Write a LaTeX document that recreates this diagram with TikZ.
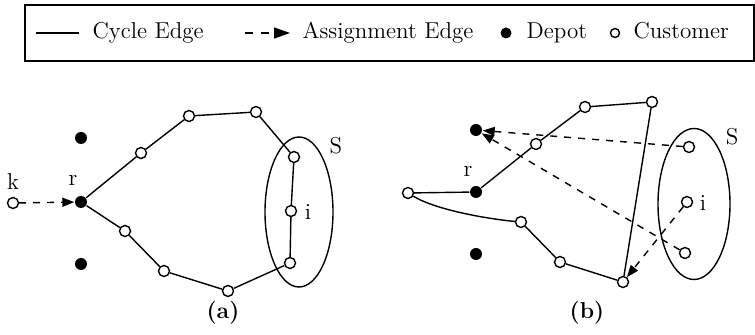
\documentclass[tikz,border=0pt]{standalone}
\usepackage{tikz}
\usetikzlibrary{arrows.meta,shapes.geometric}

\begin{document}
\begin{tikzpicture}[
  x=0.5pt, y=-0.5pt,
  font=\fontsize{11.5}{14}\selectfont,
  line width=0.7pt,
  cust/.style={circle, draw, fill=white, inner sep=0pt, minimum size=5.5pt},
  depot/.style={circle, fill=black, inner sep=0pt, minimum size=6pt},
  asgedge/.style={dash pattern=on 3.5pt off 3.5pt, -{Triangle[length=6pt, width=4.5pt]}},
  subset/.style={draw, ellipse, inner sep=0pt},
  lbl/.style={inner sep=0pt},
  txt/.style={anchor=base west, inner sep=0pt}
]
  \useasboundingbox (0,0) rectangle (755,335);

  % legend
  \draw (25,5) rectangle (754,61);
  \coordinate (lc1) at (36,33);
  \coordinate (lc2) at (79,33);
  \draw (lc1) -- (lc2);
  \node[txt] (lcyc) at (92,39) {Cycle Edge};
  \coordinate (la1) at (245,33);
  \coordinate (la2) at (290,33);
  \draw[asgedge, dash pattern=on 4pt off 4pt, -{Triangle[length=8pt, width=5.5pt]}] (la1) -- (la2);
  \node[txt] (lasg) at (302,39) {Assignment Edge};
  \node[depot, minimum size=5.5pt] (ldep) at (506,33) {};
  \node[txt] (ldeptxt) at (526,39) {Depot};
  \node[cust, minimum size=4.5pt] (lcus) at (615,33) {};
  \node[txt] (lcustxt) at (633,39) {Customer};

  % panel (a)
  \node[subset, minimum width=34pt, minimum height=75pt] (sa) at (299,212) {};
  \node[depot] (ra) at (81,202) {};
  \node[depot] (da1) at (81,138) {};
  \node[depot] (da2) at (81,264) {};
  \node[cust] (ka) at (13,203) {};
  \node[cust] (a1) at (141,153) {};
  \node[cust] (a2) at (189,116) {};
  \node[cust] (a3) at (256,112) {};
  \node[cust] (a4) at (294,157) {};
  \node[cust] (ia) at (291,211) {};
  \node[cust] (a6) at (290,263) {};
  \node[cust] (a7) at (228,291) {};
  \node[cust] (a8) at (164,271) {};
  \node[cust] (a9) at (125,231) {};
  \draw (ra) -- (a1) -- (a2) -- (a3) -- (a4) -- (ia) -- (a6) -- (a7) -- (a8) -- (a9) -- (ra);
  \draw[asgedge] (ka) -- (ra);
  \node[lbl] (klab) at (13,182) {k};
  \node[lbl] (rlaba) at (73,180) {r};
  \node[lbl] (slaba) at (336,146) {S};
  \node[lbl] (ilaba) at (308,212) {i};
  \node[lbl] (capa) at (223,313) {\bfseries (a)};

  % panel (b)
  \node[subset, minimum width=36pt, minimum height=75.5pt] (sb) at (694,204) {};
  \node[depot] (rb) at (476,192) {};
  \node[depot] (db1) at (476,130) {};
  \node[depot] (db2) at (476,254) {};
  \node[cust] (b0) at (408,193) {};
  \node[cust] (b1) at (536,144) {};
  \node[cust] (b2) at (585,107) {};
  \node[cust] (b3) at (652,102) {};
  \node[cust] (b4) at (623,282) {};
  \node[cust] (b5) at (560,262) {};
  \node[cust] (b6) at (521,222) {};
  \node[cust] (s1) at (689,147) {};
  \node[cust] (ib) at (687,202) {};
  \node[cust] (s3) at (685,253) {};
  \draw (b0) -- (rb) -- (b1) -- (b2) -- (b3) -- (b4) -- (b5) -- (b6);
  \draw (b0) .. controls (436,210) and (488,219) .. (b6);
  \draw[asgedge] (s1) -- (db1);
  \draw[asgedge] (s3) -- (db1);
  \draw[asgedge] (ib) -- (b4);
  \node[lbl] (rlabb) at (468,171) {r};
  \node[lbl] (slabb) at (732,137) {S};
  \node[lbl] (ilabb) at (703,203) {i};
  \node[lbl] (capb) at (587,313) {\bfseries (b)};
\end{tikzpicture}
\end{document}
